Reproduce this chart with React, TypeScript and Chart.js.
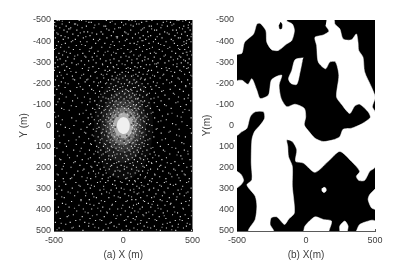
import React, { useEffect, useRef } from "react";
import { Chart, registerables } from "chart.js";

Chart.register(...registerables);

type P = [number, number];

const xTickValues = [-500, 0, 500];
const yTickValues = [-500, -400, -300, -200, -100, 0, 100, 200, 300, 400, 500];

// (a) estimated dot positions: [y, x values]
const dotRows: [number, number[]][] = [
  [-498, [-477, -463, -318, -301, -122, 41, 63, 207, 388, 402, 451]],
  [-489, [-495, -389, -248, -231, -94, -12, 133, 289, 341, 478]],
  [-481, [-441, -352, -344, -176, -58, 18, 96, 114, 246, 365, 492]],
  [-471, [-486, -412, -266, -139, -127, 72, 188, 203, 319, 437]],
  [-463, [-458, -379, -297, -211, -33, -21, 151, 272, 406, 469]],
  [-452, [-499, -428, -335, -103, 54, 129, 226, 241, 358, 384, 483]],
  [-444, [-405, -283, -257, -160, -71, 11, 176, 299, 447]],
  [-433, [-471, -364, -192, -148, 35, 88, 264, 331, 421, 497]],
  [-426, [-449, -326, -240, -86, -6, 144, 198, 373, 463]],
  [-415, [-490, -397, -288, -118, -44, 67, 121, 280, 398, 412]],
  [-408, [-433, -346, -215, -170, 26, 162, 233, 347, 476]],
  [-397, [-468, -375, -309, -262, -76, -28, 105, 218, 309, 438, 489]],
  [-389, [-418, -199, -133, 49, 79, 186, 254, 369, 455]],
  [-379, [-481, -339, -274, -64, 7, 147, 295, 392, 425]],
  [-371, [-452, -393, -228, -155, -97, 118, 211, 336, 471]],
  [-360, [-497, -360, -313, -39, 33, 93, 170, 260, 408, 444]],
  [-352, [-426, -245, -182, -111, 58, 139, 282, 351, 484]],
  [-342, [-464, -383, -292, -208, -52, 4, 196, 236, 378, 431]],
  [-334, [-438, -329, -142, -85, 76, 124, 305, 462, 495]],
  [-324, [-483, -401, -270, -224, -17, 42, 157, 224, 344, 415]],
  [-316, [-456, -354, -165, -67, 99, 180, 268, 393, 476]],
  [-306, [-415, -303, -250, -125, -31, 29, 138, 212, 329, 449]],
  [-297, [-491, -371, -196, -91, 61, 108, 251, 301, 419, 467]],
  [-288, [-443, -338, -279, -149, -47, 13, 167, 192, 361, 485]],
  [-279, [-472, -408, -219, -113, -72, 84, 126, 241, 387, 437]],
  [-270, [-387, -295, -177, -36, 22, 52, 149, 277, 332, 459]],
  [-261, [-497, -423, -252, -131, -98, 71, 183, 204, 316, 409]],
  [-252, [-459, -341, -203, -59, -8, 37, 115, 249, 371, 478]],
  [-243, [-406, -286, -158, -119, -25, 91, 143, 172, 292, 443]],
  [-234, [-476, -367, -236, -80, 16, 60, 106, 226, 355, 498]],
  [-225, [-432, -310, -189, -141, -50, -3, 130, 195, 266, 396]],
  [-216, [-489, -351, -263, -107, -68, 27, 78, 155, 314, 465]],
  [-207, [-447, -275, -212, -164, -37, 46, 97, 218, 349, 421]],
  [-198, [-398, -322, -128, -89, -14, 9, 65, 136, 178, 288, 480]],
  [-189, [-466, -244, -185, -54, 31, 111, 237, 376, 451]],
  [-180, [-420, -335, -153, -102, -23, 74, 86, 161, 259, 498]],
  [-171, [-480, -292, -228, -75, -42, 19, 55, 125, 206, 339, 408]],
  [-162, [-381, -171, -116, -61, -6, 39, 100, 147, 278, 434]],
  [-153, [-453, -256, -201, -134, -28, 12, 68, 189, 233, 362]],
  [-144, [-495, -348, -84, -46, 44, 82, 119, 168, 301, 472]],
  [-135, [-412, -280, -178, -146, -65, -17, 24, 58, 141, 252, 399]],
  [-126, [-462, -239, -108, -33, 6, 90, 104, 200, 331, 441]],
  [-117, [-366, -206, -160, -78, -51, 34, 63, 128, 154, 273, 487]],
  [-108, [-428, -298, -125, -95, -21, 15, 47, 112, 186, 224, 380]],
  [-99, [-484, -258, -190, -69, -38, 2, 75, 95, 137, 298, 455]],
  [-90, [-340, -152, -115, -57, -11, 28, 53, 121, 164, 245, 414]],
  [-81, [-445, -221, -173, -87, -44, 10, 38, 84, 108, 196, 346]],
  [-72, [-390, -268, -138, -100, -63, -24, 21, 66, 92, 148, 262, 476]],
  [-63, [-496, -198, -156, -72, -35, 5, 49, 77, 132, 214, 430]],
  [-54, [-316, -234, -120, -92, -55, -15, 31, 59, 103, 175, 322]],
  [-45, [-468, -182, -143, -81, -60, 70, 88, 116, 158, 283, 391]],
  [-36, [-372, -253, -105, -73, 62, 80, 99, 143, 227, 490]],
  [-27, [-440, -209, -166, -126, -90, 66, 94, 126, 181, 311]],
  [-18, [-289, -148, -110, -79, 72, 85, 113, 152, 253, 424]],
  [-9, [-482, -236, -187, -97, -68, 61, 101, 169, 356]],
  [0, [-356, -131, -84, -71, 74, 92, 122, 207, 461]],
  [9, [-418, -262, -175, -112, -76, 67, 105, 139, 294]],
  [18, [-305, -216, -146, -93, 81, 97, 161, 238, 403]],
  [27, [-473, -195, -122, -70, 58, 89, 118, 186, 339]],
  [36, [-361, -271, -158, -102, -66, 52, 73, 134, 274, 492]],
  [45, [-429, -224, -135, -83, -50, 41, 96, 109, 166, 385]],
  [54, [-318, -181, -107, -62, -27, 23, 79, 145, 221, 449]],
  [63, [-497, -250, -154, -88, -41, 13, 56, 124, 192, 305]],
  [72, [-394, -203, -118, -75, -19, 35, 87, 104, 158, 368]],
  [81, [-458, -282, -169, -96, -53, 7, 46, 71, 136, 247, 423]],
  [90, [-339, -230, -128, -64, -30, 18, 93, 115, 177, 326]],
  [99, [-410, -192, -143, -86, 1, 59, 83, 149, 268, 486]],
  [108, [-479, -303, -113, -52, -12, 30, 68, 126, 201, 379]],
  [117, [-358, -244, -162, -99, -37, 42, 101, 171, 290, 441]],
  [126, [-435, -183, -126, -70, 11, 76, 110, 224, 398]],
  [135, [-275, -212, -145, -45, -20, 54, 135, 193, 336, 468]],
  [144, [-492, -332, -104, -78, 25, 90, 159, 257, 416]],
  [153, [-388, -237, -172, -56, -5, 65, 120, 213, 312]],
  [162, [-451, -296, -130, -91, 38, 80, 147, 279, 482]],
  [171, [-347, -205, -150, -32, 16, 103, 184, 239, 373]],
  [180, [-425, -263, -117, -66, 49, 132, 206, 345, 436]],
  [189, [-486, -313, -188, -84, -15, 73, 168, 271, 401]],
  [198, [-377, -227, -139, -43, 26, 95, 152, 304, 459]],
  [207, [-442, -284, -166, -101, 8, 61, 197, 248, 365]],
  [216, [-328, -215, -59, -24, 112, 140, 286, 425, 494]],
  [225, [-409, -250, -178, -123, 34, 86, 175, 328]],
  [234, [-470, -353, -146, -73, 3, 124, 229, 390, 447]],
  [243, [-298, -199, -94, -36, 57, 161, 263, 351]],
  [252, [-433, -382, -235, -152, 19, 107, 209, 308, 477]],
  [261, [-490, -268, -110, -61, 44, 83, 191, 412]],
  [270, [-342, -186, -127, -9, 130, 244, 297, 458]],
  [279, [-415, -256, -77, 28, 69, 178, 340, 379]],
  [288, [-463, -311, -208, -142, 98, 150, 276, 429]],
  [297, [-368, -238, -49, -14, 116, 220, 323, 490]],
  [306, [-444, -282, -168, -88, 51, 187, 253, 396]],
  [315, [-398, -328, -120, -30, 78, 145, 295, 467]],
  [324, [-479, -222, -156, 12, 101, 236, 362, 408]],
  [333, [-351, -272, -65, 39, 172, 283, 441]],
  [342, [-426, -194, -104, -22, 126, 205, 333, 486]],
  [351, [-494, -305, -245, 62, 91, 267, 383]],
  [360, [-373, -134, -55, 20, 154, 218, 317, 452]],
  [369, [-439, -265, -175, 110, 181, 344, 420]],
  [378, [-320, -212, -82, -3, 74, 248, 301, 474]],
  [387, [-468, -391, -148, 45, 138, 199, 366]],
  [396, [-288, -228, -98, -40, 121, 272, 435]],
  [405, [-422, -336, -163, 15, 83, 230, 319, 497]],
  [414, [-482, -254, -115, 58, 166, 289, 392]],
  [423, [-360, -190, -70, -18, 142, 213, 356, 447]],
  [432, [-405, -296, -137, 34, 95, 260, 412]],
  [441, [-455, -240, -52, 72, 187, 308, 470]],
  [450, [-343, -200, -155, 8, 128, 241, 376, 426]],
  [459, [-490, -383, -278, -87, 55, 170, 338]],
  [468, [-415, -218, -125, -30, 104, 285, 398, 481]],
  [477, [-316, -250, -66, 22, 151, 225, 354, 456]],
  [486, [-463, -370, -178, -108, 77, 198, 312, 435]],
  [497, [-434, -291, -146, -11, 47, 136, 268, 379, 493]],
];

// (a) a second, dimmer set of estimated dots
const dimRows: [number, number[]][] = [
  [-494, [-440, -268, -80, 88, 165, 170, 313, 430]],
  [-476, [-500, -330, -205, 2, 55, 280, 352, 470]],
  [-458, [-395, -385, -120, -62, 140, 205, 428]],
  [-439, [-480, -310, -225, 20, 110, 318, 391]],
  [-421, [-420, -270, -50, -41, 181, 245, 490]],
  [-402, [-365, -180, 15, 135, 142, 360, 458]],
  [-384, [-445, -300, -90, 98, 270, 440]],
  [-365, [-487, -240, -232, -15, 190, 322, 399]],
  [-347, [-410, -130, -70, 50, 225, 455, 460]],
  [-329, [-350, -278, -190, 20, 112, 295, 405]],
  [-311, [-474, -216, -95, 62, 155, 362, 436]],
  [-292, [-430, -325, -150, -8, 228, 240, 388]],
  [-274, [-492, -248, -68, 35, 101, 310, 470]],
  [-256, [-378, -195, -112, 18, 177, 345, 420]],
  [-238, [-448, -300, -145, -42, 72, 212, 285, 487]],
  [-220, [-362, -255, -82, -30, 124, 160, 405]],
  [-202, [-418, -178, -120, 42, 88, 245, 335]],
  [-184, [-494, -310, -70, -4, 150, 198, 452]],
  [-166, [-385, -215, -98, 30, 62, 128, 290]],
  [-148, [-440, -162, -52, 8, 94, 175, 370]],
  [-130, [-330, -125, -86, 48, 110, 222, 468]],
  [-112, [-472, -240, -60, -14, 72, 142, 395]],
  [-94, [-375, -172, -104, 36, 90, 176, 310]],
  [-76, [-428, -205, -128, 58, 114, 260, 445]],
  [-58, [-290, -160, -88, 82, 134, 202, 352]],
  [-40, [-488, -226, -118, 74, 108, 170, 418]],
  [-22, [-340, -178, -98, 88, 146, 272]],
  [-4, [-452, -245, -142, 80, 116, 190, 380]],
  [14, [-388, -190, -104, 76, 128, 245, 484]],
  [32, [-280, -150, -90, 68, 142, 212, 330]],
  [50, [-462, -214, -114, -70, 62, 126, 405]],
  [68, [-340, -165, -92, -48, 98, 178, 280]],
  [86, [-420, -236, -136, 22, 64, 152, 438]],
  [104, [-496, -178, -80, -28, 108, 214, 352]],
  [122, [-312, -200, -112, 50, 140, 300, 466]],
  [140, [-402, -156, -62, 14, 88, 232, 388]],
  [158, [-460, -252, -106, 32, 126, 176, 425]],
  [176, [-358, -176, -48, 68, 204, 318]],
  [194, [-432, -234, -92, 8, 142, 262, 490]],
  [212, [-292, -128, -38, 98, 180, 376]],
  [230, [-478, -200, -70, 52, 226, 340, 440]],
  [248, [-372, -260, -108, 28, 156, 402]],
  [266, [-428, -165, -20, 88, 204, 310, 472]],
  [284, [-320, -230, -58, 134, 264, 362]],
  [302, [-490, -140, 6, 76, 190, 420]],
  [320, [-382, -268, -100, 112, 300, 455]],
  [338, [-444, -212, -36, 60, 224, 388]],
  [356, [-305, -158, 30, 146, 280, 478]],
  [374, [-415, -240, -78, 96, 208, 340]],
  [392, [-352, -184, -12, 66, 252, 430]],
  [410, [-470, -275, -120, 108, 184, 372]],
  [428, [-395, -222, -44, 148, 296, 492]],
  [446, [-312, -168, 20, 86, 230, 408]],
  [464, [-448, -248, -96, 124, 318, 462]],
  [482, [-360, -205, -48, 176, 280, 395]],
  [494, [-478, -142, 28, 102, 240, 350]],
];

// (a) dark specks that break up the halo round the core
const darkSpecks: P[] = [[-62, -58], [-30, -72], [18, -66], [55, -48], [72, -14], [66, 26], [44, 60], [6, 74], [-34, 64], [-68, 34], [-80, -10], [-92, -46], [-50, -92], [4, -96], [58, -84], [90, -42], [100, 8], [84, 52], [50, 88], [-2, 100], [-54, 92], [-90, 60], [-108, 14], [-116, -34], [-76, -84], [28, -112], [82, -74], [116, -18], [112, 44], [72, 98], [16, 118], [-38, 112], [-96, 88], [-122, 40], [-40, -44], [44, -40], [-58, 8], [60, -4], [-24, 52], [26, 48], [-72, -30], [36, -90], [-14, -118], [-128, -8], [128, 18], [96, 76], [-70, 112]];

// (a) estimated brightness contours around the bright core
const glowOuter: P[] = [[0, -250], [95, -225], [170, -165], [205, -80], [215, 15], [195, 115], [140, 200], [60, 250], [-25, 255], [-110, 225], [-170, 160], [-205, 70], [-210, -25], [-180, -115], [-125, -185], [-60, -235]];
const glowWide: P[] = [[0, -175], [65, -160], [120, -120], [160, -55], [165, 15], [145, 85], [100, 140], [35, 172], [-20, 176], [-85, 155], [-135, 110], [-162, 45], [-160, -30], [-130, -95], [-85, -140], [-40, -165]];
const glowMid: P[] = [[0, -125], [55, -112], [100, -78], [128, -25], [130, 22], [105, 75], [62, 112], [15, 128], [-35, 122], [-80, 102], [-115, 60], [-132, 10], [-122, -38], [-92, -85], [-45, -115]];
const glowInner: P[] = [[0, -88], [45, -78], [82, -50], [100, -8], [94, 32], [66, 70], [25, 90], [-20, 90], [-62, 72], [-92, 36], [-100, -5], [-84, -50], [-42, -80]];
const glowCore: P[] = [[0, -60], [38, -52], [62, -28], [72, 5], [60, 36], [30, 56], [-8, 60], [-42, 48], [-66, 18], [-70, -14], [-50, -42], [-24, -56]];
const glowHot: P[] = [[0, -40], [28, -33], [46, -10], [44, 16], [25, 35], [-5, 40], [-30, 30], [-46, 5], [-40, -20], [-20, -36]];

// (b) white regions of the binary field
const whiteMain: P[] = [[149, -500], [204, -500], [209, -481], [245, -458], [269, -410], [329, -406], [365, -434], [377, -395], [382, -356], [413, -324], [425, -254], [474, -183], [498, -144], [500, -128], [481, -89], [500, -65], [500, 197], [462, 217], [425, 260], [382, 260], [365, 241], [389, 217], [329, 170], [245, 123], [161, 170], [65, 222], [-19, 178], [-75, 170], [-67, 115], [-99, 76], [-139, 68], [-132, 100], [-127, 147], [-99, 194], [-99, 288], [-84, 414], [-127, 445], [-156, 469], [-212, 433], [-252, 437], [-260, 469], [-236, 500], [-416, 500], [-368, 445], [-356, 382], [-368, 335], [-416, 296], [-428, 280], [-392, 257], [-397, 178], [-392, 68], [-373, 29], [-332, -2], [-300, -34], [-308, -65], [-368, -65], [-404, -42], [-428, 13], [-464, 29], [-500, 45], [-500, -210], [-464, -214], [-421, -195], [-392, -222], [-356, -167], [-332, -128], [-272, -144], [-252, -214], [-212, -233], [-175, -238], [-195, -191], [-180, -128], [-139, -89], [-79, -101], [-12, -81], [-2, -42], [-12, -2], [22, 29], [65, 60], [125, 76], [197, 68], [245, 53], [269, 18], [329, 13], [402, -7], [466, -38], [450, -65], [389, -101], [353, -92], [317, -57], [257, -101], [221, -136], [238, -238], [214, -301], [173, -301], [142, -269], [89, -301], [77, -379], [65, -418], [125, -429], [166, -447], [142, -473]];
const whiteTopLeft: P[] = [[-500, -500], [-139, -500], [-139, -494], [-99, -481], [-84, -450], [-103, -403], [-139, -387], [-200, -356], [-248, -359], [-284, -395], [-291, -450], [-332, -484], [-356, -481], [-380, -434], [-445, -395], [-464, -343], [-500, -337]];
const whiteFinger: P[] = [[-19, -321], [-79, -312], [-103, -261], [-127, -222], [-108, -199], [-67, -195], [-43, -254], [-26, -308]];
const whiteLeftNotch: P[] = [[-500, 217], [-469, 233], [-452, 260], [-469, 280], [-500, 296]];
const whiteBottomA: P[] = [[-17, 500], [-7, 476], [65, 433], [125, 445], [185, 453], [166, 500]];
const whiteBottomB: P[] = [[245, 500], [245, 476], [281, 453], [305, 476], [300, 500]];
const whiteBottomC: P[] = [[365, 500], [389, 469], [474, 449], [500, 453], [500, 500]];
const whiteRight: P[] = [[500, 301], [462, 327], [450, 351], [474, 390], [500, 398]];
const whiteHole: P[] = [[130, 292], [145, 298], [146, 310], [130, 318], [116, 310], [115, 298]];
const blackSpot: P[] = [[-185, -490], [-174, -480], [-176, -460], [-190, -458], [-196, -475]];

const TICK = "#404040";
const BOX = "#5a5a5a";
const FONT = "'Liberation Sans', Arial, sans-serif";

const poly = (pts: P[], color: string) => ({
  data: pts.map(([x, y]) => ({ x, y })),
  showLine: true,
  fill: "shape",
  backgroundColor: color,
  borderColor: "transparent",
  borderWidth: 0,
  pointRadius: 0,
  tension: 0.25,
  parsing: false,
  normalized: false,
});

const solid = (pts: P[], color: string) => ({ ...poly(pts, color), borderColor: color, borderWidth: 0.5 });

const dotSet = (rows: [number, number[]][], color: string, radius: number): any => ({
  data: rows.flatMap(([y, xs]) => xs.map((x) => ({ x, y }))),
  pointStyle: "rect",
  pointRadius: radius,
  pointBackgroundColor: color,
  pointBorderWidth: 0,
  showLine: false,
  parsing: false,
});

function makeOptions(yWidth: number, padRight: number, xTitle: string, yTitle: string, yTitlePad: number): any {
  return {
    responsive: false,
    animation: false,
    events: [],
    layout: { padding: { top: 20, right: padRight, bottom: 0, left: 0 } },
    plugins: { legend: { display: false }, tooltip: { enabled: false } },
    scales: {
      x: {
        type: "linear",
        min: -500,
        max: 500,
        afterBuildTicks: (s: any) => { s.ticks = xTickValues.map((value) => ({ value })); },
        afterFit: (s: any) => { s.height = 30; },
        grid: { drawOnChartArea: false, drawTicks: true, tickLength: -2, color: BOX },
        border: { color: BOX, width: 1 },
        ticks: { color: TICK, font: { family: FONT, size: 9 }, padding: 6, maxRotation: 0, autoSkip: false },
        title: { display: true, text: xTitle, color: TICK, font: { family: FONT, size: 10 }, padding: { top: 2, bottom: 0 } },
      },
      y: {
        type: "linear",
        reverse: true,
        min: -500,
        max: 500,
        afterBuildTicks: (s: any) => { s.ticks = yTickValues.map((value) => ({ value })); },
        afterFit: (s: any) => { s.width = yWidth; },
        grid: { drawOnChartArea: false, drawTicks: true, tickLength: -2, color: BOX },
        border: { color: BOX, width: 1 },
        ticks: { color: TICK, font: { family: FONT, size: 9 }, padding: 5, autoSkip: false },
        title: { display: true, text: yTitle, color: TICK, font: { family: FONT, size: 10 }, padding: { top: yTitlePad, bottom: 0 } },
      },
    },
  };
}

const blackBackdrop = {
  id: "blackBackdrop",
  beforeDatasetsDraw(chart: any, _a: any, o: any) {
    const { ctx, chartArea: c } = chart;
    ctx.save();
    ctx.fillStyle = o.color;
    ctx.fillRect(c.left, c.top, c.right - c.left, c.bottom - c.top);
    ctx.restore();
  },
};

export default function App() {
  const aRef = useRef<HTMLCanvasElement>(null);
  const bRef = useRef<HTMLCanvasElement>(null);

  useEffect(() => {
    document.body.style.margin = "0";
    const optsA = makeOptions(54, 12, "(a) X (m)", "Y (m)", 18);
    optsA.plugins.blackBackdrop = { color: "#000" };
    const a = new Chart(aRef.current!, {
      type: "scatter",
      plugins: [blackBackdrop],
      data: {
        datasets: [
          {
            data: darkSpecks.map(([x, y]) => ({ x, y })),
            pointStyle: "rect",
            pointRadius: 1.2,
            pointBackgroundColor: "rgba(0,0,0,0.55)",
            pointBorderWidth: 0,
            showLine: false,
            parsing: false,
          } as any,
          dotSet(dotRows, "#d8d8d8", 0.8),
          dotSet(dimRows, "#9a9a9a", 0.8),
          poly(glowHot, "rgba(255,255,255,0.8)"),
          poly(glowCore, "rgba(255,255,255,0.45)"),
          poly(glowInner, "rgba(255,255,255,0.25)"),
          poly(glowMid, "rgba(255,255,255,0.13)"),
          poly(glowWide, "rgba(255,255,255,0.08)"),
          poly(glowOuter, "rgba(255,255,255,0.04)"),
        ],
      },
      options: optsA,
    });
    const optsB = makeOptions(39, 40, "(b) X(m)", "Y(m)", 3);
    optsB.plugins.blackBackdrop = { color: "#000" };
    const b = new Chart(bRef.current!, {
      type: "scatter",
      plugins: [blackBackdrop],
      data: {
        datasets: [
          solid(whiteHole, "#fff"),
          solid(blackSpot, "#000"),
          solid(whiteMain, "#fff"),
          solid(whiteTopLeft, "#fff"),
          solid(whiteFinger, "#fff"),
          solid(whiteLeftNotch, "#fff"),
          solid(whiteBottomA, "#fff"),
          solid(whiteBottomB, "#fff"),
          solid(whiteBottomC, "#fff"),
          solid(whiteRight, "#fff"),
        ],
      },
      options: optsB,
    });
    return () => {
      a.destroy();
      b.destroy();
    };
  }, []);

  return (
    <div style={{ position: "absolute", left: 0, top: 0, width: 415, height: 261, background: "#fff" }}>
      <canvas ref={aRef} width={206} height={261} style={{ position: "absolute", left: 0, top: 0 }} />
      <canvas ref={bRef} width={217} height={261} style={{ position: "absolute", left: 198, top: 0 }} />
    </div>
  );
}
